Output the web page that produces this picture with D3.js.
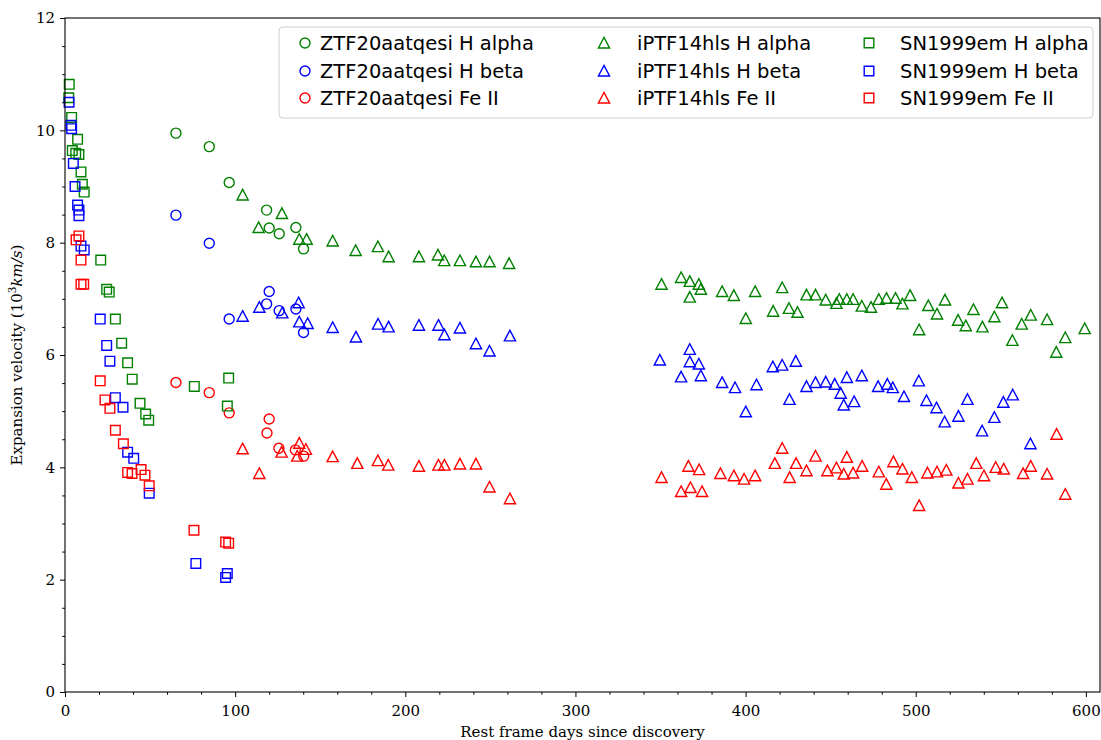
<!DOCTYPE html>
<html><head><meta charset="utf-8">
<script src="https://cdn.jsdelivr.net/npm/d3@7"></script>
<style>body{margin:0;background:#fff}</style>
</head><body>
<svg id="chart" width="1101" height="740"></svg>
<script>
// ---- data ----
const xTicks = [0, 100, 200, 300, 400, 500, 600];
const yTicks = [0, 2, 4, 6, 8, 10, 12];
const xLabel = "Rest frame days since discovery";

const ztfHaX = [65.2, 84.8, 96.5, 118.5, 120.0, 125.9, 135.7, 140.2];
const ztfHaY = [9.95, 9.71, 9.07, 8.58, 8.26, 8.16, 8.27, 7.89];
const ztfHbX = [65.2, 84.8, 96.5, 118.5, 120.0, 125.9, 135.7, 140.2];
const ztfHbY = [8.49, 7.99, 6.64, 6.91, 7.13, 6.79, 6.82, 6.40];
const ztfFeX = [65.2, 84.8, 96.5, 118.7, 120.0, 125.7, 135.4, 140.3];
const ztfFeY = [5.51, 5.33, 4.97, 4.61, 4.86, 4.34, 4.31, 4.20];

const iptfHaX = [104.4, 113.8, 127.5, 137.7, 142.0, 157.3, 170.8, 183.9, 190.2, 208.0, 219.2, 222.9, 232.1, 241.5, 249.5, 261.0,
  350.6, 362.1, 367.2, 367.2, 372.5, 373.7, 386.2, 393.1, 400.1, 405.6, 416.2, 421.5, 425.5, 430.5, 435.8, 441.1, 447.1, 453.4, 455.1, 459.5, 463.2, 468.3, 473.7, 478.3, 482.8, 488.1, 492.2, 496.7, 502.0, 507.4, 512.5, 517.2, 524.9, 529.4, 533.9, 539.2, 546.2, 550.7, 556.8, 562.3, 567.6, 577.2, 582.6, 587.9, 599.3];
const iptfHaY = [8.85, 8.27, 8.52, 8.06, 8.06, 8.03, 7.86, 7.93, 7.75, 7.75, 7.78, 7.68, 7.68, 7.66, 7.66, 7.63,
  7.26, 7.38, 7.31, 7.03, 7.26, 7.17, 7.13, 7.06, 6.65, 7.13, 6.78, 7.20, 6.83, 6.76, 7.07, 7.07, 6.98, 6.92, 6.99, 6.99, 6.99, 6.87, 6.85, 6.99, 7.01, 7.01, 6.91, 7.06, 6.45, 6.88, 6.73, 6.98, 6.62, 6.52, 6.81, 6.50, 6.68, 6.93, 6.26, 6.55, 6.71, 6.63, 6.05, 6.31, 6.47];

const iptfHbX = [104.4, 114.2, 127.7, 137.3, 137.7, 142.6, 157.3, 171.0, 184.0, 190.2, 208.0, 219.5, 223.0, 232.1, 241.5, 249.5, 261.5,
  349.6, 362.1, 367.2, 367.2, 372.5, 373.7, 386.2, 393.8, 400.1, 406.4, 416.0, 421.5, 425.8, 429.5, 435.8, 441.1, 447.1, 452.4, 455.9, 457.7, 459.5, 463.8, 468.3, 477.9, 483.3, 486.5, 493.1, 501.8, 506.3, 512.2, 517.0, 525.1, 530.4, 539.0, 546.2, 551.5, 557.0, 567.4];
const iptfHbY = [6.69, 6.85, 6.75, 6.93, 6.59, 6.56, 6.49, 6.32, 6.55, 6.50, 6.53, 6.53, 6.36, 6.48, 6.20, 6.07, 6.34,
  5.91, 5.61, 6.10, 5.88, 5.84, 5.63, 5.51, 5.42, 4.99, 5.47, 5.79, 5.82, 5.21, 5.89, 5.44, 5.51, 5.52, 5.48, 5.32, 5.11, 5.60, 5.17, 5.63, 5.44, 5.48, 5.42, 5.26, 5.54, 5.19, 5.06, 4.81, 4.91, 5.21, 4.65, 4.89, 5.16, 5.29, 4.42];

const iptfFeX = [104.4, 114.2, 127.3, 136.5, 137.7, 141.6, 157.3, 171.8, 183.9, 190.0, 208.0, 219.5, 223.0, 232.1, 241.5, 249.5, 261.5,
  350.6, 362.1, 366.4, 367.6, 372.7, 374.4, 385.2, 393.1, 399.1, 405.6, 417.2, 421.5, 425.9, 429.7, 435.8, 441.1, 448.1, 453.4, 457.7, 459.5, 463.2, 468.5, 478.3, 482.7, 486.9, 492.2, 497.7, 502.0, 506.9, 512.5, 518.0, 525.1, 530.4, 535.6, 540.1, 547.0, 551.7, 563.1, 567.6, 577.2, 582.8, 587.9];
const iptfFeY = [4.33, 3.89, 4.27, 4.20, 4.43, 4.32, 4.19, 4.07, 4.12, 4.04, 4.02, 4.04, 4.04, 4.06, 4.06, 3.65, 3.44,
  3.82, 3.57, 4.02, 3.64, 3.96, 3.57, 3.89, 3.85, 3.79, 3.85, 4.07, 4.34, 3.82, 4.07, 3.94, 4.20, 3.94, 3.99, 3.88, 4.18, 3.90, 4.02, 3.92, 3.70, 4.10, 3.97, 3.82, 3.32, 3.90, 3.92, 3.95, 3.72, 3.79, 4.07, 3.85, 4.00, 3.97, 3.89, 4.02, 3.88, 4.59, 3.52];

const snHaX = [2.5, 2.2, 3.9, 4.3, 6.3, 7.4, 8.2, 9.4, 10.2, 11.3, 21.0, 24.5, 26.0, 29.6, 33.3, 36.8, 39.5, 44.1, 47.4, 49.2, 76.0, 96.2, 95.4];
const snHaY = [10.82, 10.58, 10.23, 9.64, 9.59, 9.84, 9.57, 9.26, 9.04, 8.90, 7.69, 7.17, 7.12, 6.64, 6.21, 5.86, 5.57, 5.14, 4.95, 4.84, 5.44, 5.59, 5.09];
const snHbX = [2.4, 3.5, 3.9, 4.9, 5.9, 7.4, 8.2, 8.2, 9.4, 11.3, 20.7, 24.5, 26.4, 29.6, 34.1, 36.8, 40.4, 49.5, 76.9, 95.4, 94.4];
const snHbY = [10.50, 10.09, 10.03, 9.41, 9.00, 8.67, 8.58, 8.48, 7.94, 7.87, 6.64, 6.17, 5.89, 5.24, 5.07, 4.27, 4.16, 3.54, 2.29, 2.11, 2.04];
const snFeX = [8.2, 6.5, 9.4, 11.0, 9.4, 20.7, 23.5, 26.4, 29.6, 34.3, 36.8, 39.4, 44.7, 47.0, 49.5, 75.8, 94.4, 96.2];
const snFeY = [8.12, 8.05, 7.69, 7.26, 7.26, 5.54, 5.20, 5.05, 4.66, 4.42, 3.91, 3.89, 3.96, 3.86, 3.67, 2.88, 2.67, 2.65];

const seriesNames = ["ZTF20aatqesi H alpha", "ZTF20aatqesi H beta", "ZTF20aatqesi Fe II",
  "iPTF14hls H alpha", "iPTF14hls H beta", "iPTF14hls Fe II",
  "SN1999em H alpha", "SN1999em H beta", "SN1999em Fe II"];
const seriesX = [ztfHaX, ztfHbX, ztfFeX, iptfHaX, iptfHbX, iptfFeX, snHaX, snHbX, snFeX];
const seriesY = [ztfHaY, ztfHbY, ztfFeY, iptfHaY, iptfHbY, iptfFeY, snHaY, snHbY, snFeY];
const seriesColor = ["green", "blue", "red", "green", "blue", "red", "green", "blue", "red"];
const seriesMarker = ["circle", "circle", "circle", "triangle", "triangle", "triangle", "square", "square", "square"];

// ---- layout ----
const svg = d3.select("#chart");
const L = 65, R = 1100, T = 18, B = 692;
const x = d3.scaleLinear().domain([0, 608.3]).range([L, R]);
const y = d3.scaleLinear().domain([0, 12]).range([B, T]);
const serif = "'DejaVu Serif', serif";
const sans = "'DejaVu Sans', sans-serif";

function markerPath(type) {
  if (type === "circle") return d3.symbol(d3.symbolCircle, Math.PI * 5 * 5)();
  if (type === "square") return "M-4.8,-4.8H4.8V4.8H-4.8Z";
  return "M0,-5.6L5.6,5.0L-5.6,5.0Z";
}

// markers
const g = svg.append("g");
seriesNames.forEach((name, i) => {
  const pts = seriesX[i].map((d, k) => [d, seriesY[i][k]]);
  g.append("g").selectAll("path").data(pts).join("path")
    .attr("d", markerPath(seriesMarker[i]))
    .attr("transform", d => `translate(${x(d[0])},${y(d[1])})`)
    .attr("fill", "none").attr("stroke", seriesColor[i]).attr("stroke-width", 1.4);
});

// axes
const xAxis = d3.axisBottom(x).tickValues(xTicks).tickSize(5).tickPadding(8).tickFormat(d3.format("d"));
const yAxis = d3.axisLeft(y).tickValues(yTicks).tickSize(5).tickPadding(5).tickFormat(d3.format("d"));
const gx = svg.append("g").attr("transform", `translate(0,${B})`).call(xAxis);
const gy = svg.append("g").attr("transform", `translate(${L},0)`).call(yAxis);
// minor ticks
svg.append("g").attr("transform", `translate(${L},0)`)
  .call(d3.axisLeft(y).tickValues(d3.range(0, 12.01, 0.5).filter(v => v % 2 !== 0)).tickSize(2.8).tickFormat(""))
  .select(".domain").remove();
svg.append("g").attr("transform", `translate(0,${B})`)
  .call(d3.axisBottom(x).tickValues(d3.range(0, 608, 20).filter(v => v % 100 !== 0)).tickSize(2.8).tickFormat(""))
  .select(".domain").remove();

[gx, gy].forEach(a => {
  a.select(".domain").remove();
  a.selectAll("text").attr("font-family", serif).attr("font-size", 15).attr("fill", "#000");
  a.selectAll("line").attr("stroke", "#000").attr("stroke-width", 1);
});
svg.selectAll(".tick line").attr("stroke", "#000");

// frame
svg.append("rect").attr("x", L).attr("y", T).attr("width", R - L).attr("height", B - T)
  .attr("fill", "none").attr("stroke", "#000").attr("stroke-width", 1.1);

// axis labels
svg.append("text").attr("x", (L + R) / 2).attr("y", 737).attr("text-anchor", "middle")
  .attr("font-family", serif).attr("font-size", 15).text(xLabel);
const yl = svg.append("text").attr("transform", `translate(22,${(T + B) / 2}) rotate(-90)`)
  .attr("text-anchor", "middle").attr("font-family", serif).attr("font-size", 15);
yl.append("tspan").text("Expansion velocity (10");
yl.append("tspan").attr("font-size", 10.5).attr("dy", -6).text("3");
yl.append("tspan").attr("dy", 6).attr("font-style", "italic").text("km/s");
yl.append("tspan").text(")");

// legend
const lg = svg.append("g");
lg.append("rect").attr("x", 279).attr("y", 27).attr("width", 814).attr("height", 91).attr("rx", 4)
  .attr("fill", "#fff").attr("fill-opacity", 0.8).attr("stroke", "#d0d0d0").attr("stroke-width", 1);
const colMarkX = [305, 604, 869];
const colTextX = [320, 637, 900];
const rowY = [43, 71, 98];
seriesNames.forEach((name, i) => {
  const c = Math.floor(i / 3), r = i % 3;
  lg.append("path").attr("d", markerPath(seriesMarker[i]))
    .attr("transform", `translate(${colMarkX[c]},${rowY[r]})`)
    .attr("fill", "none").attr("stroke", seriesColor[i]).attr("stroke-width", 1.4);
  lg.append("text").attr("x", colTextX[c]).attr("y", rowY[r] + 6.5)
    .attr("font-family", sans).attr("font-size", 19.5).attr("fill", "#000").text(name);
});
</script>
</body></html>
